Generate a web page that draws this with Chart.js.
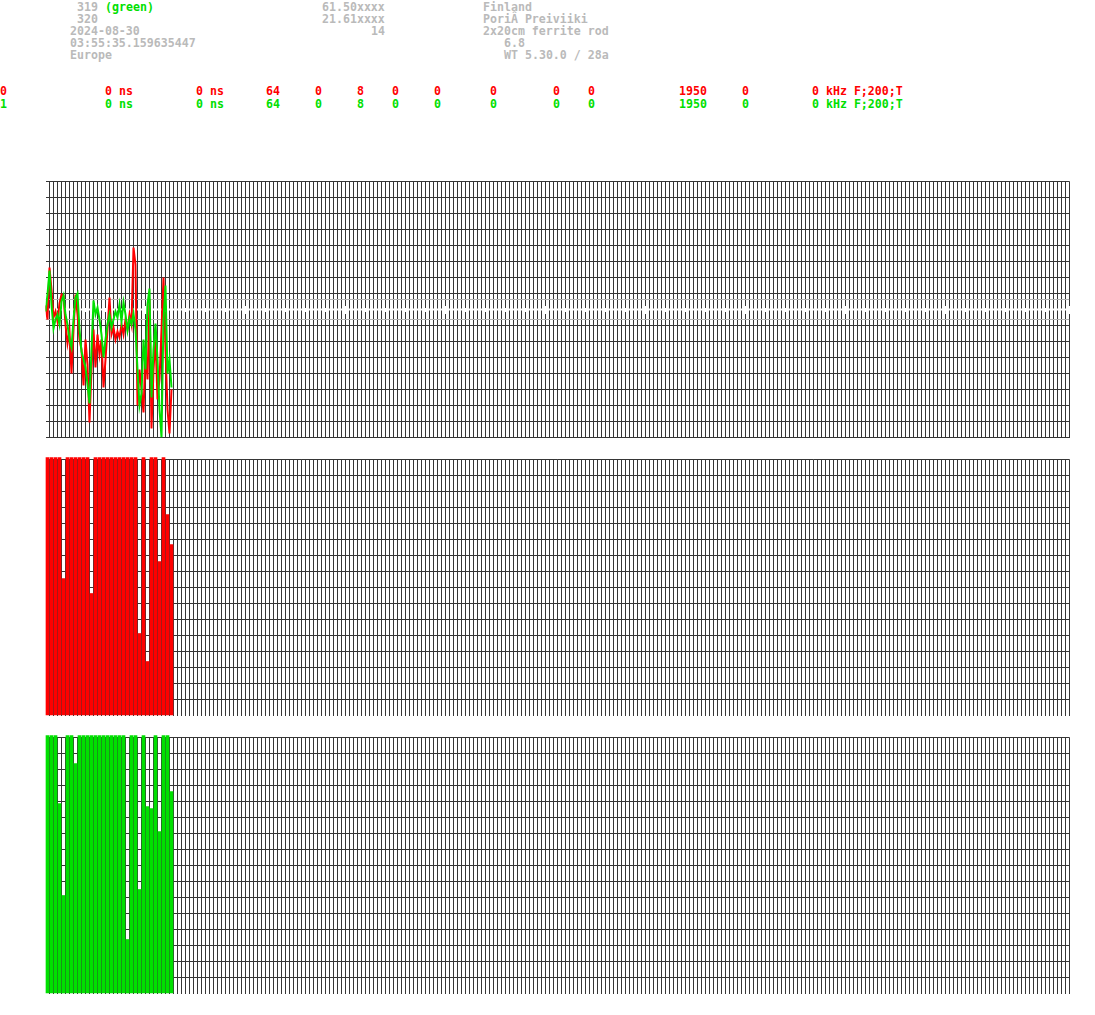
<!DOCTYPE html>
<html>
<head>
<meta charset="utf-8">
<script src="https://cdn.jsdelivr.net/npm/chart.js@4.4.1/dist/chart.umd.min.js"></script>
<style>
  body { margin: 0; background: #fff; width: 1095px; height: 1015px; position: relative; overflow: hidden; }
  .t { position: absolute; font: bold 11.6px "DejaVu Sans Mono", monospace; line-height: 12px; white-space: pre; color: #bababa; }
  canvas { position: absolute; left: 0; }
</style>
</head>
<body>
<div id="txt"></div>
<canvas id="wave" width="1095" height="275" style="top:170px"></canvas>
<canvas id="binsRed" width="1095" height="270" style="top:450px"></canvas>
<canvas id="binsGreen" width="1095" height="270" style="top:728px"></canvas>
<script>
const RED = "#ff0000";
const GREEN = "#00e000";
const GRID = "#363636";

// header text: [text, column, top, colour]
const headerRows = [
  ["319", 11, 1, null], ["(green)", 15, 1, GREEN], ["61.50xxxx", 46, 1, null], ["Finland", 69, 1, null],
  ["320", 11, 13, null], ["21.61xxxx", 46, 13, null], ["PoriÂ Preiviiki", 69, 13, null],
  ["2024-08-30", 10, 25, null], ["14", 53, 25, null], ["2x20cm ferrite rod", 69, 25, null],
  ["03:55:35.159635447", 10, 37, null], ["6.8", 72, 37, null],
  ["Europe", 10, 49, null], ["WT 5.30.0 / 28a", 72, 49, null]
];
// channel table columns
const channelCols = [15, 28, 38, 45, 51, 56, 62, 70, 79, 84, 97, 106, 116];
const channelVals = ["0 ns", "0 ns", "64", "0", "8", "0", "0", "0", "0", "0", "1950", "0", "0 kHz F;200;T"];
const channels = [["0", RED, 85], ["1", GREEN, 98]];

// waveform samples (one sample = 2 px), amplitude -128..127
const redSamples = [4, -10, 42, 20, -8, -2, -12, 6, 15, 14, -15, -34, -22, -64, -20, 15,
  -5, -30, -40, -76, -30, -55, -113, -60, -20, -58, -25, -45, -30, -78, -50, -20,
  12, -25, -18, -30, -22, -28, -15, -25, -10, -20, -5, -15, 62, 45, -96, -60,
  -80, -103, -40, -70, 10, -119, -60, -30, -90, -70, -20, 32, -40, -100, -124, -80];
const greenSamples = [-2, 15, 39, 5, -19, -10, -5, -15, 8, 14, -5, -15, -30, -38, -10, 12,
  16, -20, -42, -50, -58, -75, -94, -40, 9, -5, 2, -10, -25, -48, -30, -15,
  -5, -18, -10, -2, -8, 5, -12, 7, -5, -21, -9, -15, -4, -20, -60, -96,
  -84, -30, -60, 5, 21, -88, -40, -14, -50, -100, -128, -10, 24, -64, -50, -78];
const thresholds = [10, -10];

// bins (256 columns, first 32 filled)
const binLabels = Array.from({ length: 256 }, (_, i) => i);
const redBins = [258, 258, 258, 258, 137, 258, 258, 258, 258, 258, 258, 122, 258, 258, 258, 258,
  258, 258, 258, 258, 258, 258, 258, 82, 258, 54, 258, 258, 154, 258, 201, 171];
const greenBins = [258, 258, 258, 190, 98, 258, 258, 230, 258, 258, 258, 258, 258, 258, 258, 258,
  258, 258, 258, 258, 54, 258, 258, 104, 258, 187, 185, 258, 162, 258, 258, 202];

const txt = document.getElementById("txt");
function put(s, col, top, color) {
  const d = document.createElement("div");
  d.className = "t";
  d.textContent = s;
  d.style.left = (col * 7) + "px";
  d.style.top = top + "px";
  if (color) d.style.color = color;
  txt.appendChild(d);
}
headerRows.forEach(r => put(r[0], r[1], r[2], r[3]));
channels.forEach(([id, color, top]) => {
  put(id, 0, top, color);
  channelVals.forEach((v, i) => put(v, channelCols[i], top, color));
});

const base = {
  responsive: false,
  animation: false,
  events: [],
  plugins: { legend: { display: false }, tooltip: { enabled: false } }
};

const toPts = arr => arr.map((v, i) => ({ x: i, y: v }));
const flat = v => [{ x: 0, y: v }, { x: 512, y: v }];

new Chart(document.getElementById("wave"), {
  type: "line",
  data: {
    datasets: [
      { data: toPts(greenSamples), borderColor: GREEN, borderWidth: 2, pointRadius: 0 },
      { data: toPts(redSamples), borderColor: RED, borderWidth: 2, pointRadius: 0 },
      { data: flat(0), borderColor: "#ffffff", borderWidth: 2, pointRadius: 0 },
      { data: flat(thresholds[0]), borderColor: "#b4b4b4", borderWidth: 1, pointRadius: 0 },
      { data: flat(thresholds[1]), borderColor: "#b4b4b4", borderWidth: 1, pointRadius: 0 }
    ]
  },
  options: {
    ...base,
    layout: { padding: { left: 45.5, right: 25.5, top: 11.5, bottom: 7.5 } },
    scales: {
      x: {
        type: "linear", min: 0, max: 512,
        ticks: { display: false, stepSize: 2 },
        border: { display: false },
        grid: { drawTicks: false, color: c => c.index === 0 ? "rgba(0,0,0,0)" : GRID }
      },
      y: {
        min: -128, max: 128,
        ticks: { display: false, stepSize: 16 },
        border: { display: false },
        grid: { drawTicks: false, color: GRID }
      },
      xs: {
        type: "linear", axis: "x", position: { y: 2 }, min: 0, max: 512,
        ticks: { display: false, stepSize: 10 },
        border: { display: false },
        grid: { drawOnChartArea: false, drawTicks: true, tickLength: 4, tickWidth: 3, tickColor: "#ffffff" }
      },
      xb: {
        type: "linear", axis: "x", position: { y: 4 }, min: 0, max: 512,
        ticks: { display: false, stepSize: 50 },
        border: { display: false },
        grid: { drawOnChartArea: false, drawTicks: true, tickLength: 8, tickWidth: 4, tickColor: "#ffffff" }
      }
    }
  }
});

function binChart(id, values, color) {
  new Chart(document.getElementById(id), {
    type: "bar",
    data: {
      labels: binLabels,
      datasets: [{ data: values, backgroundColor: color, borderWidth: 0, barThickness: 3, clip: false }]
    },
    options: {
      ...base,
      layout: { padding: { left: 45.5, right: 25.5, top: 9.5, bottom: 4.5 } },
      scales: {
        x: {
          ticks: { display: false },
          border: { display: false },
          grid: { drawTicks: false, offset: true, color: c => c.index === 0 ? "rgba(0,0,0,0)" : GRID }
        },
        y: {
          min: 0, max: 256,
          ticks: { display: false, stepSize: 16 },
          border: { display: false },
          grid: { drawTicks: false, color: c => (c.tick && c.tick.value === 0) ? "rgba(0,0,0,0)" : GRID }
        }
      }
    }
  });
}
binChart("binsRed", redBins, RED);
binChart("binsGreen", greenBins, GREEN);
</script>
</body>
</html>
